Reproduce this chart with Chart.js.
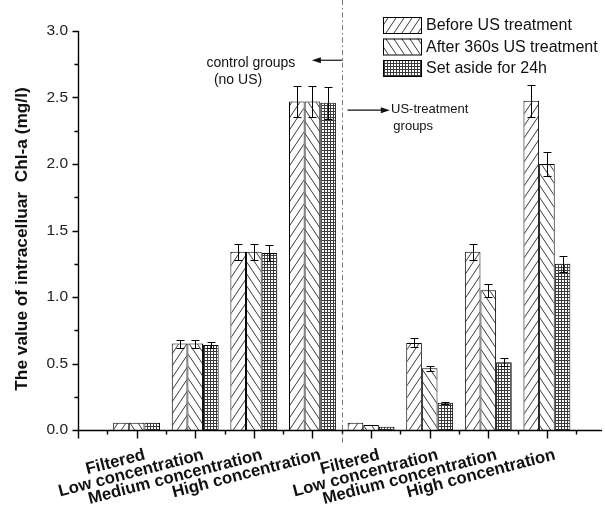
<!DOCTYPE html>
<html>
<head>
<meta charset="utf-8">
<script src="https://cdn.jsdelivr.net/npm/chart.js@4"></script>
<style>
  html, body { margin: 0; padding: 0; background: #fff; }
  #wrap { width: 605px; height: 509px; }
</style>
</head>
<body>
<div id="wrap"><canvas id="chl" width="605" height="509"></canvas></div>
<script>
/* ── data ─────────────────────────────────────────────────────────────── */
const CATEGORIES = ['Filtered', 'Low concentration', 'Medium concentration', 'High concentration',
                    'Filtered', 'Low concentration', 'Medium concentration', 'High concentration'];
const GROUP_X = [1, 2, 3, 4, 5, 6, 7, 8];

const BEFORE     = [0.055, 0.65, 1.34, 2.47, 0.055, 0.655, 1.34, 2.475];
const BEFORE_ERR = [0, 0.03, 0.06, 0.12, 0, 0.034, 0.06, 0.118];
const AFTER      = [0.055, 0.65, 1.34, 2.47, 0.038, 0.464, 1.05, 2.00];
const AFTER_ERR  = [0, 0.03, 0.06, 0.12, 0, 0.02, 0.05, 0.09];
const ASIDE      = [0.055, 0.64, 1.33, 2.46, 0.025, 0.205, 0.51, 1.25];
const ASIDE_ERR  = [0, 0.025, 0.06, 0.12, 0, 0.008, 0.03, 0.06];

const Y_TICKS = [0, 0.5, 1, 1.5, 2, 2.5, 3];
const LEGEND  = ['Before US treatment', 'After 360s US treatment', 'Set aside for 24h'];
const Y_TITLE = 'The value of intracelluar  Chl-a (mg/l)';

const FONT = "'Liberation Sans', Arial, sans-serif";
const INK = '#111';
const LABEL_ROT = 14.5 * Math.PI / 180;

/* ── hatch fills ──────────────────────────────────────────────────────── */
function makeHatch(kind) {
  const c = document.createElement('canvas');
  const w = kind === 'grid' ? 3 : 8, h = kind === 'grid' ? 3 : 12;
  c.width = w; c.height = h;
  const g = c.getContext('2d');
  g.fillStyle = '#fff'; g.fillRect(0, 0, w, h);
  g.strokeStyle = '#3a3a3a'; g.lineWidth = 1;
  g.beginPath();
  if (kind === 'grid') {
    g.moveTo(0, 0.5); g.lineTo(w, 0.5);
    g.moveTo(0.5, 0); g.lineTo(0.5, h);
  } else {
    [-w, 0, w].forEach(dx => {
      if (kind === 'fwd') { g.moveTo(dx, h); g.lineTo(dx + w, 0); }
      else { g.moveTo(dx, 0); g.lineTo(dx + w, h); }
    });
  }
  g.stroke();
  return g.createPattern(c, 'repeat');
}
const FILLS = [makeHatch('fwd'), makeHatch('back'), makeHatch('grid')];

const pts = arr => arr.map((v, i) => ({ x: GROUP_X[i], y: v }));

/* ── axes, error bars, legend, notes ──────────────────────────────────── */
const decorPlugin = {
  id: 'decor',
  afterDatasetsDraw(chart) {
    const ctx = chart.ctx, xs = chart.scales.x, ys = chart.scales.y;
    const area = chart.chartArea;
    ctx.save();
    // error bars
    ctx.strokeStyle = '#000'; ctx.lineWidth = 1;
    chart.data.datasets.forEach((ds, di) => {
      chart.getDatasetMeta(di).data.forEach((bar, i) => {
        const e = ds.errors[i];
        if (!e) return;
        const v = ds.data[i].y;
        const yt = Math.round(ys.getPixelForValue(v + e)) + 0.5;
        const yb = Math.round(ys.getPixelForValue(v - e)) + 0.5;
        const x = Math.round(bar.x) + 0.5;
        ctx.beginPath();
        ctx.moveTo(x, yt); ctx.lineTo(x, yb);
        ctx.moveTo(x - 4, yt); ctx.lineTo(x + 4, yt);
        ctx.moveTo(x - 4, yb); ctx.lineTo(x + 4, yb);
        ctx.stroke();
      });
    });

    // axis lines + ticks
    const x0 = Math.round(area.left) + 0.5, yb0 = Math.round(area.bottom) + 0.5;
    ctx.lineWidth = 1.4;
    ctx.beginPath();
    ctx.moveTo(x0, area.top); ctx.lineTo(x0, yb0);
    ctx.lineTo(area.right, yb0);
    for (let v = 0; v <= 3.001; v += 0.25) {
      const y = Math.round(ys.getPixelForValue(v)) + 0.5;
      const len = Math.abs(v * 2 - Math.round(v * 2)) < 1e-6 ? 6 : 4;
      ctx.moveTo(x0 - len, y); ctx.lineTo(x0, y);
    }
    for (let v = 0; v <= xs.max; v += 0.5) {
      const x = Math.round(xs.getPixelForValue(v)) + 0.5;
      const len = Number.isInteger(v) ? 8 : 4;
      ctx.moveTo(x, yb0); ctx.lineTo(x, yb0 + len);
    }
    ctx.stroke();

    // slanted category labels
    ctx.fillStyle = INK;
    ctx.font = `bold 16.8px ${FONT}`;
    ctx.textAlign = 'right'; ctx.textBaseline = 'top';
    CATEGORIES.forEach((name, i) => {
      ctx.save();
      ctx.translate(xs.getPixelForValue(GROUP_X[i]) + 6, yb0 + 16);
      ctx.rotate(-LABEL_ROT);
      ctx.fillText(name, 0, 0);
      ctx.restore();
    });

    // dash-dot separator
    const xm = Math.round(xs.getPixelForValue(4.5)) + 0.5;
    ctx.strokeStyle = '#777'; ctx.lineWidth = 1;
    ctx.setLineDash([5, 3, 1.5, 3]);
    ctx.beginPath(); ctx.moveTo(xm, 0); ctx.lineTo(xm, yb0 + 12); ctx.stroke();
    ctx.setLineDash([]);

    // y title
    ctx.fillStyle = INK;
    ctx.font = `bold 17.3px ${FONT}`;
    ctx.textAlign = 'center'; ctx.textBaseline = 'middle';
    ctx.save();
    ctx.translate(22, 239); ctx.rotate(-Math.PI / 2);
    ctx.fillText(Y_TITLE, 0, 0);
    ctx.restore();

    // annotations
    const arrow = (xa, xb, y) => {
      const dir = Math.sign(xb - xa);
      ctx.strokeStyle = '#111'; ctx.lineWidth = 1.2;
      ctx.beginPath(); ctx.moveTo(xa, y); ctx.lineTo(xb - dir * 6, y); ctx.stroke();
      ctx.fillStyle = '#111';
      ctx.beginPath(); ctx.moveTo(xb, y); ctx.lineTo(xb - dir * 9, y - 3); ctx.lineTo(xb - dir * 9, y + 3); ctx.closePath(); ctx.fill();
    };
    const ya = ys.getPixelForValue(2.78);
    arrow(xm, xs.getPixelForValue(3.99), ya);
    ctx.font = `14px ${FONT}`;
    ctx.textAlign = 'center';
    ctx.fillText('control groups', xs.getPixelForValue(2.95), ys.getPixelForValue(2.76));
    ctx.fillText('(no US)', xs.getPixelForValue(2.73), ys.getPixelForValue(2.63));
    const yu = ys.getPixelForValue(2.405);
    arrow(xm + 5, xs.getPixelForValue(5.32), yu);
    ctx.font = `13px ${FONT}`;
    ctx.textAlign = 'left'; ctx.fillStyle = INK;
    ctx.fillText('US-treatment', xs.getPixelForValue(5.34), ys.getPixelForValue(2.41));
    ctx.fillText('groups', xs.getPixelForValue(5.38), ys.getPixelForValue(2.28));

    // legend
    ctx.font = `16px ${FONT}`;
    ctx.textBaseline = 'middle';
    LEGEND.forEach((txt, i) => {
      const bx = 383, by = 17 + i * 21.5;
      ctx.fillStyle = FILLS[i];
      ctx.fillRect(bx, by, 38, 16);
      ctx.strokeStyle = '#000'; ctx.lineWidth = 1;
      ctx.strokeRect(bx + 0.5, by + 0.5, 38, 16);
      ctx.fillStyle = INK;
      ctx.fillText(txt, bx + 43, by + 9);
    });
    ctx.restore();
  }
};

/* ── chart ────────────────────────────────────────────────────────────── */
const datasets = [BEFORE, AFTER, ASIDE].map((vals, i) => ({
  label: LEGEND[i],
  data: pts(vals),
  errors: [BEFORE_ERR, AFTER_ERR, ASIDE_ERR][i],
  backgroundColor: FILLS[i],
  borderColor: '#000',
  borderWidth: 1,
  borderSkipped: 'bottom',
  categoryPercentage: 0.8,
  barPercentage: 1.0
}));

new Chart(document.getElementById('chl'), {
  type: 'bar',
  data: { datasets },
  plugins: [decorPlugin],
  options: {
    responsive: false,
    animation: false,
    layout: { padding: { top: 31, right: 3, left: 0, bottom: 0 } },
    plugins: { legend: { display: false }, tooltip: { enabled: false } },
    scales: {
      x: {
        type: 'linear', min: 0, max: 8.94, offset: false,
        grid: { display: false, drawTicks: false },
        border: { display: false },
        afterBuildTicks: s => { s.ticks = GROUP_X.map(v => ({ value: v })); },
        afterFit: s => { s.height = 79; },
        ticks: { display: false }
      },
      y: {
        min: 0, max: 3,
        grid: { display: false, drawTicks: false },
        border: { display: false },
        afterBuildTicks: s => { s.ticks = Y_TICKS.map(v => ({ value: v })); },
        afterFit: s => { s.width = 78; },
        ticks: {
          padding: 10, color: '#222', font: { family: FONT, size: 15.5 },
          callback: v => v.toFixed(1)
        }
      }
    }
  }
});
</script>
</body>
</html>
